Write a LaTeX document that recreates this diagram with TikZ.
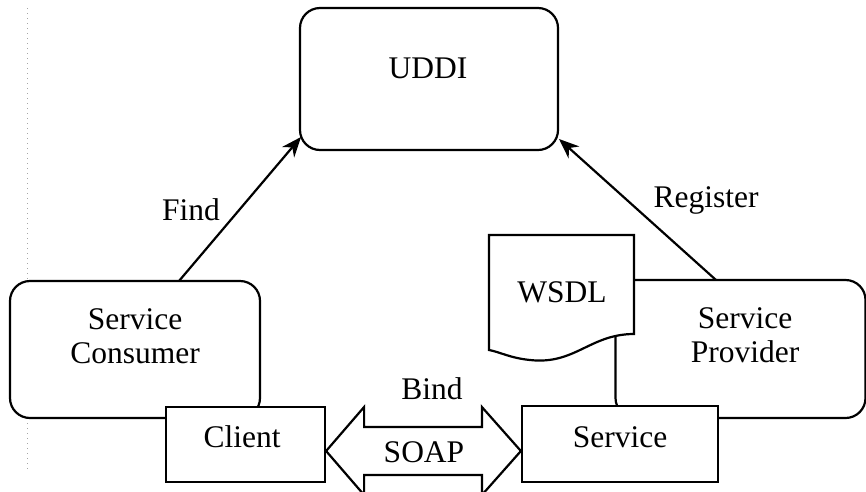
\documentclass[tikz,border=0pt]{standalone}
\usepackage{fontspec}
\setmainfont{Liberation Serif}
\usetikzlibrary{arrows.meta,calc}
\begin{document}
\begin{tikzpicture}[x=1pt,y=-1pt,
  box/.style={draw=black,line width=2.2pt,fill=white,inner sep=0pt},
  rbox/.style={box,rounded corners=20pt},
  txt/.style={font=\fontsize{31.5}{36}\selectfont,align=center,inner sep=0pt},
  conn/.style={line width=2.2pt,-{Stealth[length=20pt,width=16pt]}}]
\clip (0,0) rectangle (866,491);
\useasboundingbox (0,0) rectangle (866,491);
% scan margin artifact
\draw[gray!70,line width=0.8pt,dash pattern=on 1pt off 4pt] (27,8) -- (27,470);
% UDDI
\node[rbox,minimum width=258pt,minimum height=142pt] (uddi) at (429,79) {};
\node[txt] (uddiT) at (428,68) {UDDI};
% Consumer
\node[rbox,minimum width=250pt,minimum height=137pt] (cons) at (135,349.5) {};
\node[txt] (consT) at (135,336) {Service\\[-2pt]Consumer};
% Provider
\node[rbox,minimum width=250pt,minimum height=138pt] (prov) at (740.5,349) {};
\node[txt] (provT) at (745,335) {Service\\[-2pt]Provider};
% WSDL document
\path[draw=black,line width=2.2pt,fill=white] (489,235) -- (634,235) -- (634,334)
  .. controls (590,334) and (575,365) .. (530,360)
  .. controls (510,358) and (500,352) .. (489,350) -- cycle;
\node[txt] (wsdl) at (562,292) {WSDL};
% Client and Service boxes
\node[box,minimum width=159pt,minimum height=75pt] (client) at (245.5,444.5) {};
\node[txt] (clientT) at (242,437) {Client};
\node[box,minimum width=196pt,minimum height=76pt] (serv) at (620,444) {};
\node[txt] (servT) at (620,437) {Service};
% Bind / SOAP double arrow
\coordinate (lt) at (client.east |- 0,451);
\coordinate (rt) at (serv.west |- 0,451);
\draw[line width=2.2pt,fill=white,line join=miter]
  (lt) -- ++(38,-44) -- ++(0,20) -- ($(rt)+(-39,-24)$) -- ++(0,-20) -- (rt)
  -- ++(-39,44) -- ++(0,-20) -- ($(lt)+(38,24)$) -- ++(0,20) -- cycle;
\node[txt] (soap) at (424,452) {SOAP};
\node[txt] (bind) at (432,389) {Bind};
% Find / Register
\coordinate (f1) at (179,281);
\coordinate (f2) at (301,137);
\coordinate (r1) at (716,280);
\coordinate (r2) at (559,139);
\draw[conn] (f1) -- (f2);
\draw[conn] (r1) -- (r2);
\node[txt] (find) at (191,210) {Find};
\node[txt] (reg) at (706,200) {Register};
\end{tikzpicture}
\end{document}
